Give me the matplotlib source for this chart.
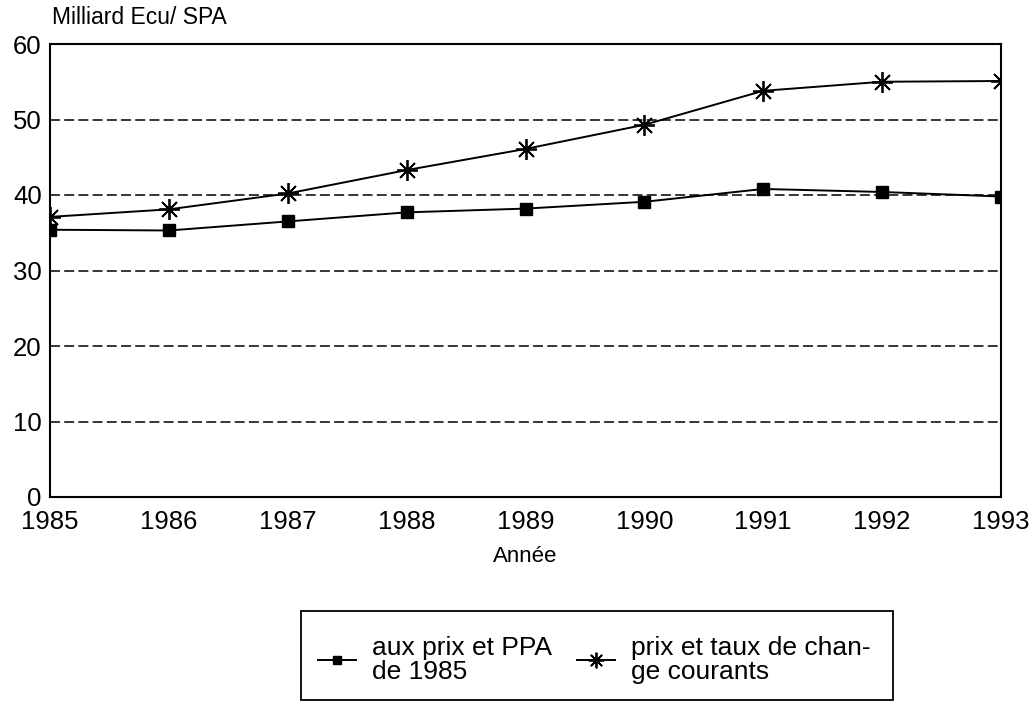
import matplotlib
matplotlib.use("Agg")
import matplotlib.pyplot as plt
from matplotlib.patches import Rectangle

# ===================
# DATA
# ===================
years = [1985, 1986, 1987, 1988, 1989, 1990, 1991, 1992, 1993]
ppa_1985 = [35.4, 35.3, 36.5, 37.7, 38.2, 39.1, 40.8, 40.4, 39.8]
courants = [37.1, 38.1, 40.2, 43.3, 46.1, 49.3, 53.8, 55.0, 55.1]
yticks = [0, 10, 20, 30, 40, 50, 60]

label_ppa = "aux prix et PPA\nde 1985"
label_cur = "prix et taux de chan-\nge courants"

# ===================
# PLOT
# ===================
plt.rcParams['font.family'] = ['Liberation Sans', 'DejaVu Sans']

fig = plt.figure(figsize=(10.35, 7.05), dpi=100)
ax = fig.add_axes([50 / 1035, 1 - 497 / 705, (1001 - 50) / 1035, (497 - 44) / 705])

l1, = ax.plot(years, ppa_1985, color='black', lw=1.4, marker='s', markersize=8.5,
              markerfacecolor='black', markeredgecolor='black')
l2, = ax.plot(years, courants, color='black', lw=1.4, marker=(8, 2, 0), markersize=15,
              markeredgewidth=1.3, markeredgecolor='black')

ax.set_xlim(years[0], years[-1])
ax.set_ylim(0, 60)
ax.set_xticks(years)
ax.set_yticks(yticks)
ax.tick_params(length=0, labelsize=18.5)
ax.tick_params(axis='y', pad=6)
ax.tick_params(axis='x', pad=9.5)
for s in ax.spines.values():
    s.set_linewidth(1.5)
    s.set_color('black')

ax.yaxis.grid(True, color='black', lw=1.1, linestyle=(0, (6.5, 2.8)))
ax.set_axisbelow(True)

fig.text(52 / 1035, 1 - 17 / 705, "Milliard Ecu/ SPA", fontsize=16.5, va='center', ha='left')
fig.text(525 / 1035, 1 - 557 / 705, "Année", fontsize=16, va='center', ha='center')

# legend box (runs to the bottom edge like the scan)
fig.patches.append(Rectangle((301 / 1035, 1 - 700 / 705), (893 - 301) / 1035, (700 - 611) / 705,
                             transform=fig.transFigure, fill=False, edgecolor='black', lw=1.3))
leg = fig.legend([l1, l2], [label_ppa, label_cur], ncol=2, frameon=False,
                 loc='center left', bbox_to_anchor=(318 / 1035, 1 - 660 / 705),
                 fontsize=19, handlelength=1.45, handletextpad=0.6, columnspacing=0.95,
                 markerscale=0.75, borderaxespad=0, borderpad=0)
for t in leg.get_texts():
    t.set_linespacing(1.0)

fig.savefig("out.png", dpi=100)
